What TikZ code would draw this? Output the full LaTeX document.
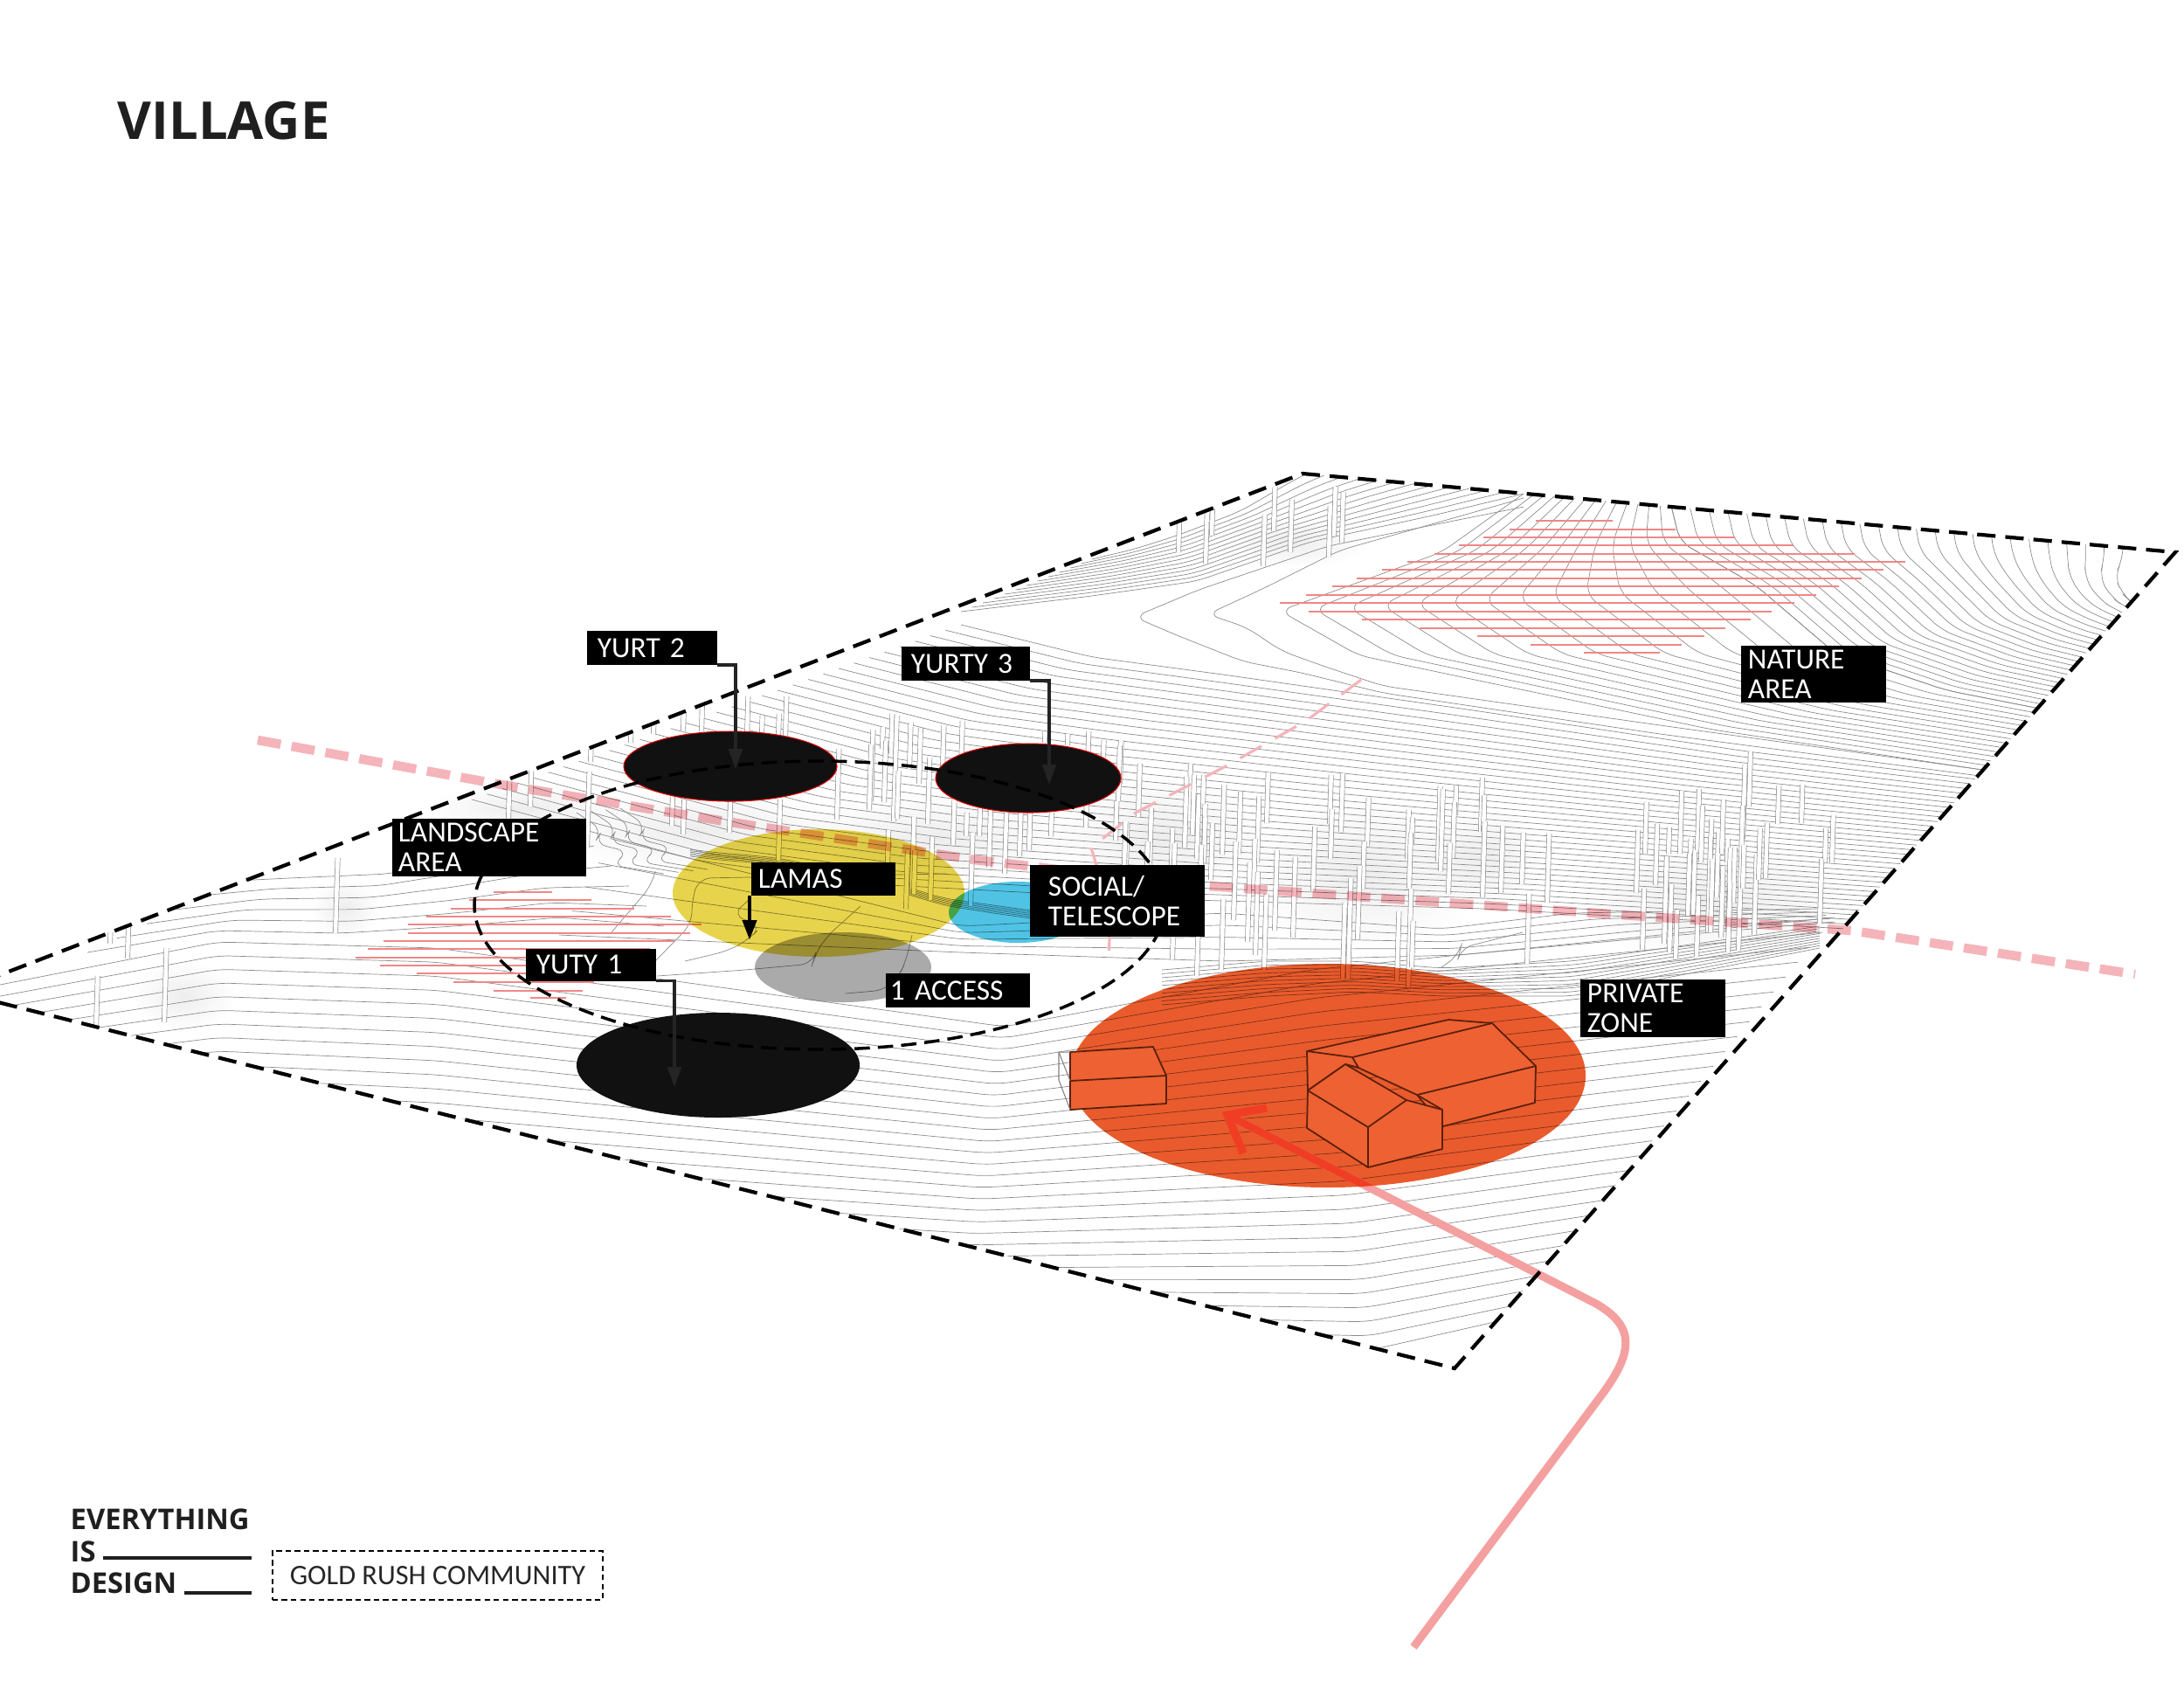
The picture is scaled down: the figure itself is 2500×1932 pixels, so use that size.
\documentclass[tikz,border=0pt]{standalone}
\usepackage{xcolor}
\usepackage{fontspec}
\usepackage{tikz}
\usetikzlibrary{arrows.meta, calc}
\newfontfamily\tagfont{Carlito}
\newfontfamily\headfont{Open Sans}
\definecolor{inkblack}{RGB}{17, 17, 17}
\definecolor{leadgray}{RGB}{36, 36, 38}
\definecolor{contourgray}{RGB}{140, 140, 140}
\definecolor{hatchred}{RGB}{240, 135, 135}
\definecolor{roadpink}{RGB}{245, 180, 186}
\definecolor{entrypink}{RGB}{244, 160, 160}
\definecolor{entryred}{RGB}{240, 62, 36}
\definecolor{zoneorange}{RGB}{233, 91, 44}
\definecolor{houseorange}{RGB}{237, 97, 50}
\definecolor{roofbrown}{RGB}{90, 32, 12}
\definecolor{lamayellow}{RGB}{232, 212, 76}
\definecolor{socialblue}{RGB}{80, 195, 228}
\definecolor{accessgray}{RGB}{170, 170, 170}

% One family of contour lines between two guide lines of six points
\newcommand{\guide}[2]{\foreach \gpt [count=\k] in {#2} {\path \gpt coordinate (#1-\k);}}
\newcommand{\contourband}[3]{%
  \foreach \i in {0,...,#3} {
    \pgfmathsetmacro{\lvl}{\i/#3}
    \draw[contour] ($(#1-1)!\lvl!(#2-1)$)
      \foreach \k in {2,...,6} { -- ($(#1-\k)!\lvl!(#2-\k)$) };
  }%
}

\begin{document}
\begin{tikzpicture}[
    x=0.01cm, y=-0.01cm,
    contour/.style={draw=contourgray, line width=0.2pt, rounded corners=4pt},
    pole/.style={draw=black!42, double=white, double distance=1.3pt, line width=0.2pt},
    blob/.style={inner color=black!7, outer color=white, blend mode=multiply},
    hatch/.style={hatchred, line width=0.55pt},
    plotedge/.style={black, line width=1.2pt, dash pattern=on 6pt off 3.2pt},
    road/.style={roadpink, line width=3pt, dash pattern=on 7.6pt off 3.6pt, blend mode=multiply},
    trail/.style={roadpink, line width=0.9pt, dash pattern=on 8pt off 5pt},
    zone/.style={blend mode=multiply},
    yurt/.style={fill=inkblack, draw=red!85!black, line width=0.3pt},
    house/.style={fill=houseorange, draw=roofbrown, line width=0.5pt, line join=round},
    entry/.style={line width=2.6pt, line join=miter},
    tag/.style={fill=black, text=white, inner xsep=#1, inner ysep=0pt, outer sep=0pt, align=left,
        font=\tagfont\fontsize{9.5}{9.7}\selectfont},
    leader/.style={leadgray, line width=1pt, -{Triangle[length=6.5pt, width=4.4pt]}},
    logotext/.style={anchor=base west, inner sep=0pt, text=black!88,
        font=\headfont\bfseries\fontsize{9.3}{11}\selectfont}
]
\useasboundingbox (0,0) rectangle (2500,1932);
\clip (0,0) rectangle (2500,1932);

% Plot corners
\coordinate (ctop) at (1491,542);
\coordinate (cright) at (2490,632);
\coordinate (cbottom) at (1665,1566);
\coordinate (cleft) at (-50,1135);

% Soft ground shadows
\foreach \bx/\by/\brx/\bry in {1330/960/130/75, 1560/1000/140/90, 1960/1030/170/70, 1700/980/70/60,
    1070/960/170/55, 800/950/170/50, 1480/620/90/30, 600/925/110/30, 395/1040/40/35, 210/1140/60/40} {
    \shade[blob] (\bx,\by) ellipse [x radius=\brx, y radius=\bry];
}

% Contour lines
\begin{scope}
    \clip (ctop) -- (cright) -- (cbottom) -- (cleft) -- cycle;
    \guide{fara}{(2430,620),(2430,640),(2420,660),(2430,680),(2440,690),(2460,700)}
    \guide{farb}{(1912,575),(1923,620),(2010,670),(2100,747),(2228,790),(2330,810)}
    \contourband{fara}{farb}{24}
    \guide{nata}{(1744,565),(1650,632),(1465,699),(1555,750),(1960,835),(2330,890)}
    \contourband{nata}{farb}{14}
    \guide{topa}{(1250,640),(1300,628),(1350,612),(1420,585),(1480,550),(1500,540)}
    \guide{topb}{(1100,700),(1250,682),(1370,665),(1500,620),(1640,590),(1744,565)}
    \contourband{topa}{topb}{12}
    \guide{mida}{(1100,715),(1250,752),(1400,772),(1680,812),(2000,860),(2330,900)}
    \guide{midb}{(540,915),(800,985),(1000,1012),(1300,1028),(1700,1040),(2150,1065)}
    \contourband{mida}{midb}{32}
    \guide{densea}{(1037,1015),(1080,1028),(1130,1035),(1180,1042),(1240,1048),(1300,1052)}
    \guide{denseb}{(1037,1023),(1080,1036),(1130,1044),(1180,1051),(1240,1057),(1300,1061)}
    \contourband{densea}{denseb}{5}
    \guide{ridgea}{(790,972),(822,976),(850,978),(870,980),(891,982),(930,990)}
    \guide{ridgeb}{(790,980),(822,984),(850,986),(870,988),(891,990),(930,998)}
    \contourband{ridgea}{ridgeb}{5}
    \guide{kinka}{(660,930),(690,950),(680,965),(720,975),(700,990),(760,1000)}
    \guide{kinkb}{(710,925),(740,945),(730,960),(770,970),(750,985),(810,995)}
    \contourband{kinka}{kinkb}{3}
    \guide{uppa}{(700,960),(1100,1060),(1400,1045),(1650,1063),(1800,1045),(2080,1040)}
    \guide{uppb}{(640,1070),(1100,1090),(1400,1100),(1670,1093),(1900,1072),(2100,1055)}
    \contourband{uppa}{uppb}{4}
    \guide{cresta}{(1330,1110),(1450,1100),(1550,1100),(1650,1108),(1800,1100),(2083,1060)}
    \guide{crestb}{(1330,1150),(1450,1140),(1550,1135),(1650,1140),(1800,1140),(2083,1085)}
    \contourband{cresta}{crestb}{9}
    \guide{fora}{(0,1127),(250,1078),(500,1085),(1150,1175),(1500,1110),(2100,1050)}
    \guide{forb}{(0,1480),(250,1500),(500,1520),(1100,1530),(1569,1545),(1724,1510)}
    \contourband{fora}{forb}{27}
    \guide{wedgea}{(270,1008),(330,1005),(446,1000),(520,985),(600,965),(660,945)}
    \guide{wedgeb}{(100,1090),(250,1065),(390,1068),(520,1060),(640,1050),(760,1060)}
    \contourband{wedgea}{wedgeb}{5}
    % Contours with a cusp under the nature area
    \draw[contour] (1744,580) -- (1520,625) -- (1372,675) -- (1298,706) -- (1347,727) -- (1423,757) -- (1490,770) -- (1583,793) -- (1900,840) -- (2320,895);
    \draw[contour] (1744,570) -- (1533,630) -- (1443,675) -- (1382,703) -- (1427,718) -- (1467,745) -- (1517,763) -- (1583,785) -- (1900,830) -- (2320,888);
    % Loose lines round the centre
    \draw[contour] (750,997) -- (746,1013) -- (723,1040) -- (700,1067);
    \draw[contour] (1083,1000) -- (800,1005) -- (792,1030) -- (792,1057) -- (750,1100);
    \draw[contour] (985,1037) -- (945,1073) -- (933,1093) -- (930,1103) -- (853,1110) -- (752,1117);
    \draw[contour] (1044,1070) -- (1037,1100) -- (1029,1117) -- (1014,1133) -- (968,1137);
    \draw[contour] (857,1030) -- (838,1047) -- (872,1060) -- (857,1075) -- (834,1088) -- (784,1100);
    \draw[contour] (1650,1107) -- (1670,1093) -- (1672,1085) -- (1743,1067);
\end{scope}

% Poles
\foreach \px/\ya/\yb in {
    1263/847/867, 1282/847/897, 1280/853/917, 1277/917/962, 1303/874/935, 1289/942/990, 1316/925/990, 1313/963/990,
    1361/874/940, 1356/889/970, 1365/887/955, 1377/887/920, 1370/910/983, 1341/948/990, 1344/965/990, 1378/920/973,
    1378/935/987, 1386/942/1007, 1374/967/1010, 1399/898/978, 1418/906/977, 1439/911/987, 1450/884/942, 1412/963/1053,
    1435/960/1013, 1428/987/1078, 1437/998/1093, 1447/1023/1110, 1459/973/1065, 1480/981/1073, 1503/946/1020, 1398/1029/1110,
    1370/1010/1117, 1342/1073/1098, 1522/887/943, 1535/885/952, 1523/926/983, 1565/913/968, 1560/963/1017, 1554/991/1075,
    1543/1005/1120, 1537/1033/1120, 1611/927/983, 1616/936/967, 1613/953/1017, 1612/1017/1130, 1599/1043/1123, 1616/1054/1107,
    1646/900/986, 1649/903/997, 1666/899/933, 1663/918/982, 1658/965/1023, 1695/890/952, 1698/910/952, 1697/940/1027,
    1718/945/1022, 1742/953/1012, 1771/954/1033, 1748/1023/1103,
    1883/918/977, 1873/950/1022, 1895/943/1013, 1880/1017/1087, 1910/947/977, 1907/980/1010, 1905/1000/1080, 1911/1012/1090,
    1918/1042/1097, 1923/905/977, 1943/903/973, 1947/922/987, 1933/960/1047, 1932/977/1048, 1938/975/1047, 1942/1025/1095,
    1958/937/980, 1955/957/1067, 1958/983/1067, 1965/952/1027, 1971/915/977, 1977/960/987, 1978/970/1067, 1984/970/1033,
    1970/992/1073, 1978/1010/1090, 1990/1020/1088, 1995/875/960, 2002/860/923, 1992/922/1020, 1995/967/1017, 2008/978/1070,
    2013/948/1007, 2021/942/1005, 2035/899/943, 2062/898/942, 2089/948/987, 2097/933/987, 2083/983/1057,
    782/815/837, 748/830/840, 722/840/850, 803/807/837, 855/797/843, 872/819/840, 891/817/843, 899/797/843,
    769/912/945, 782/915/955, 835/917/953, 891/915/985, 958/857/938, 997/835/917, 995/852/927, 1010/832/857,
    1012/848/918, 1020/817/863, 1023/819/940, 1027/882/937, 1041/827/880, 1052/833/897, 1062/867/943, 1079/830/880,
    1100/825/883, 1091/913/967, 1106/930/957, 1111/953/1037, 1121/923/957, 1132/927/993, 1150/930/1000, 1167/930/980,
    1178/930/973, 1203/930/957, 1196/837/850, 1222/840/853, 1243/837/947, 1287/940/990, 1044/935/1017, 1016/950/987,
    1037/973/1040, 1065/958/1030, 1046/973/1023,
    384/982/1068, 188/1085/1170, 110/1117/1177, 146/1060/1097, 126/1067/1080,
    582/893/937, 607/882/923, 672/883/970, 676/857/872,
    1349/598/632, 1380/587/645, 1387/582/613, 1446/589/648, 1458/557/608, 1477/572/632, 1521/579/637, 1527/557/613, 1536/563/621} {
    \draw[pole] ({\px+0.03*(\yb-\ya)},\ya) -- (\px,\yb);
}

% Hatched areas
\foreach \hy/\hxa/\hxb in {
    596/1758/1846, 605.7/1728/1918, 615/1698/1986, 624.3/1670/2053, 633.7/1642/2123, 643/1611/2181, 652.3/1582/2156,
    661.7/1553/2131, 671/1525/2105, 680.7/1495/2079, 690/1465/2054, 699.7/1498/2028, 709/1559/2004, 718.7/1625/1975,
    728.3/1691/1951, 737.7/1752/1925, 747/1813/1900,
    1021/565/632, 1030/537/677, 1040/516/726, 1049/488/768, 1058/467/803, 1068/467/790, 1077/439/772,
    1086/421/744, 1096/407/720, 1105/435/700, 1114/477/680, 1124/519/680, 1134/565/667, 1142/607/648} {
    \draw[hatch] (\hxa,\hy) -- (\hxb,\hy);
}

% Road and trail
\draw[road] (295,847) -- (574,898) -- (830,940) -- (1116,984) -- (1355,1012) -- (1754,1040) -- (2120,1065) -- (2444,1115);
\draw[trail] (1558,778) -- (1495,825) -- (1403,877) -- (1300,930) -- (1249,970) -- (1255,990) -- (1270,1074) -- (1269,1101);

% Zones
\fill[zone, lamayellow] (937,1022) ellipse [x radius=167, y radius=73];
\fill[zone, accessgray] (965,1107) ellipse [x radius=101, y radius=40];
\fill[zone, socialblue] (1165,1044) ellipse [x radius=79, y radius=35];
\fill[zone, zoneorange] (1520,1231) ellipse [x radius=295, y radius=128];

% Houses
\draw[house] (1225,1204) -- (1320,1198) -- (1335,1231) -- (1335,1263) -- (1225,1270) -- cycle;
\draw[house] (1225,1237) -- (1335,1231);
\draw[black!50, line width=0.3pt] (1225,1204) -- (1212,1204) -- (1212,1236) -- (1225,1270);
\draw[black!50, line width=0.3pt] (1212,1204) -- (1225,1237);
\draw[house] (1496,1203) -- (1658,1167) -- (1708,1171) -- (1758,1220) -- (1757,1262) -- (1652,1289) -- (1622,1253) -- (1555,1222) -- (1540,1218) -- (1497,1248) -- cycle;
\draw[house, fill=none] (1496,1203) -- (1548,1210) -- (1708,1171);
\draw[house, fill=none] (1548,1210) -- (1555,1222) -- (1540,1218);
\draw[house, fill=none] (1622,1253) -- (1758,1220);
\draw[house] (1540,1218) -- (1610,1259) -- (1651,1270) -- (1651,1315) -- (1566,1336) -- (1496,1291) -- (1497,1248) -- cycle;
\draw[house, fill=none] (1497,1248) -- (1566,1290) -- (1610,1259);
\draw[house, fill=none] (1566,1290) -- (1566,1336);
\draw[house, fill=none] (1622,1253) -- (1651,1270);

% Entry arrow
\coordinate (gate) at (1618,1885);
\coordinate (gateturn) at (1833,1597);
\coordinate (gatebend) at (1827,1492);
\coordinate (entrytip) at (1405,1276);
\coordinate (barbtop) at (1450,1268);
\coordinate (barbside) at (1423,1320);
\draw[entry, entrypink] (gate) -- (gateturn) .. controls (1872,1545) and (1870,1517) .. (gatebend) -- (entrytip);
\begin{scope}
    \clip (1520,1231) ellipse [x radius=295, y radius=128];
    \draw[entry, entryred] (gatebend) -- (entrytip);
    \draw[entry, entryred] (barbtop) -- (entrytip) -- (barbside);
\end{scope}

% Yurts
\draw[yurt] (836,877) ellipse [x radius=122, y radius=40];
\draw[yurt] (1177,890.5) ellipse [x radius=106, y radius=39.5];
\fill[inkblack] (822,1219) ellipse [x radius=162, y radius=60];

% Plot edge and the landscape circle
\draw[plotedge] (cleft) -- (ctop) -- (cright) -- (cbottom) -- cycle;
\draw[black, line width=1pt, dash pattern=on 5pt off 2.6pt] (938,1036) ellipse [x radius=395, y radius=165];

% Labels
\node[tag=.12cm, text width=1.25cm, minimum height=.39cm] (yurt2) at (746.5,741.5) {YURT 2};
\node[tag=.11cm, text width=1.25cm, minimum height=.39cm] (yurty3) at (1105.5,759.5) {YURTY 3};
\node[tag=.07cm, text width=2.08cm, minimum height=.66cm] (landscape) at (560,970) {LANDSCAPE\\AREA};
\node[tag=.08cm, text width=1.49cm, minimum height=.38cm] (lamas) at (942.5,1006) {LAMAS};
\node[tag=.21cm, text width=1.58cm, minimum height=.82cm] (social) at (1279,1031) {SOCIAL/\\TELESCOPE};
\node[tag=.12cm, text width=1.25cm, minimum height=.37cm] (yuty1) at (676.5,1104) {YUTY 1};
\node[tag=.05cm, text width=1.55cm, minimum height=.39cm] (access) at (1096.5,1133.5) {1 ACCESS};
\node[tag=.08cm, text width=1.50cm, minimum height=.66cm] (private) at (1892,1153.5) {PRIVATE\\ZONE};
\node[tag=.08cm, text width=1.50cm, minimum height=.65cm] (nature) at (2076,771.5) {NATURE\\AREA};

% Leaders
\coordinate (yurt2tip) at (842,880);
\coordinate (yurty3tip) at (1201,898);
\coordinate (yuty1tip) at (772,1244);
\coordinate (lamastip) at (858,1076);
\draw[leader] (yurt2.south east) -| (yurt2tip);
\draw[leader] (yurty3.south east) -| (yurty3tip);
\draw[leader] (yuty1.south east) -| (yuty1tip);
\draw[leader, black, line width=1.4pt] (lamas.south west -| lamastip) -- (lamastip);

% Title
\node[anchor=base west, inner sep=0pt, text=black!88, font=\headfont\bfseries\fontsize{17}{20}\selectfont] (title) at (134,159) {VILLAGE};

% Logo
\node[logotext] (logo1) at (80,1750) {EVERYTHING};
\node[logotext] (logo2) at (80,1787) {IS};
\node[logotext] (logo3) at (80,1823) {DESIGN};
\coordinate (logo2end) at (288,1783);
\coordinate (logo3end) at (288,1823);
\draw[black!88, line width=1pt] (logo2.base east) ++(8,-4) -- (logo2end);
\draw[black!88, line width=1pt] (logo3.base east) ++(8,0) -- (logo3end);
\node[draw=black, line width=0.4pt, dash pattern=on 1.8pt off 1.2pt, minimum width=3.78cm, minimum height=.56cm, inner sep=0pt,
    font=\tagfont\fontsize{9.2}{11}\selectfont, text=black!85] (community) at (501,1803) {GOLD RUSH COMMUNITY};
\end{tikzpicture}
\end{document}
